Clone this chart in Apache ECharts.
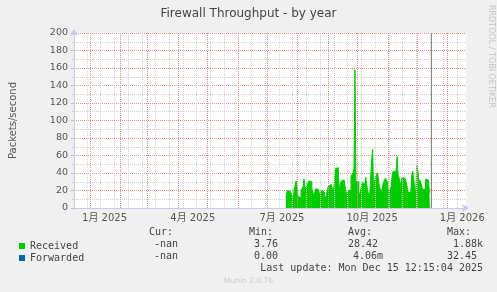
<!DOCTYPE html>
<html><head><meta charset="utf-8">
<script src="https://cdn.jsdelivr.net/npm/echarts@6/dist/echarts.min.js"></script>
<style>html,body{margin:0;padding:0;background:#f0f0f0;}#c{width:497px;height:292px;}</style>
</head><body><div id="c"></div>
<script>
// ---- data ----
const titleText = 'Firewall Throughput - by year';
const yAxisName = 'Packets/second';
// x axis: days since 1 Jan 2025
const xTickDays = [15, 105, 196, 288, 380];
const xTickLabels = ['1月 2025', '4月 2025', '7月 2025', '10月 2025', '1月 2026'];
const monthStartDays = [0, 31, 59, 90, 120, 151, 181, 212, 243, 273, 304, 334, 365];
const minorGridDays = [-3, 11, 25, 39, 53, 67, 81, 95, 109, 123, 137, 151, 165, 179, 193, 207, 221, 235, 249, 263, 277, 291, 305, 319, 333, 347, 361, 375];
const nowDay = 348.5;
const seriesNames = ['Received', 'Forwarded'];
const receivedStartDay = 200; // 20 Jul 2025, one value per day
const receivedValues = [
  11, 12, 20, 22, 19, 18, 16, 15, 11, 23, 26, 31, 29, 13, 11, 12, 20, 21, 24, 33,
  22, 20, 26, 27, 31, 32, 30, 22, 20, 14, 12, 22, 24, 21, 20, 14, 13, 20, 22, 18,
  15, 10, 8, 22, 25, 24, 27, 29, 26, 17, 18, 45, 47, 46, 40, 21, 19, 31, 33, 32,
  34, 33, 16, 14, 20, 22, 20, 37, 38, 40, 45, 158, 30, 31, 30, 18, 15, 16, 29, 28,
  27, 26, 35, 36, 19, 17, 13, 14, 55, 67, 22, 20, 36, 38, 40, 39, 24, 21, 18, 17,
  29, 31, 34, 36, 30, 18, 17, 22, 25, 38, 42, 41, 42, 40, 59, 38, 35, 24, 22, 35,
  36, 34, 33, 34, 26, 18, 17, 18, 17, 38, 42, 43, 22, 18, 48, 45, 33, 31, 30, 29,
  21, 19, 22, 33, 34, 32, 31, 17
];
const forwardedValues = [];
const statHeaders = ['Cur:', 'Min:', 'Avg:', 'Max:'];
const receivedStats = ['-nan', '3.76', '28.42', '1.88k'];
const forwardedStats = ['-nan', '0.00', '4.06m', '32.45'];
const lastUpdate = 'Last update: Mon Dec 15 12:15:04 2025';
const footerText = 'Munin 2.0.76';
const watermark = 'RRDTOOL / TOBI OETIKER';

// ---- chart ----
const FONT = '"DejaVu Sans", "Noto Sans CJK JP", sans-serif';
const MONO = '"DejaVu Sans Mono", monospace';
const RED = '#ec8c8c';
const GRAY = '#d0d0d0';
const AXIS = '#c8c8f4';

const chart = echarts.init(document.getElementById('c'), null, {renderer: 'canvas'});

const receivedData = receivedValues.map((v, i) => [receivedStartDay + i, v]);
const forwardedData = forwardedValues.map((v, i) => [receivedStartDay + i, v]);

const gridLines = [];
minorGridDays.forEach(d => gridLines.push({xAxis: d, lineStyle: {color: GRAY, type: [1, 1], width: 1}}));
monthStartDays.forEach(d => gridLines.push({xAxis: d, lineStyle: {color: RED, type: [1, 1], width: 1}}));

function statTexts(vals, xs, y, align) {
  return vals.map((t, i) => ({
    type: 'text', x: xs[i], y: y, silent: true,
    style: {text: t, font: '10px ' + MONO, fill: '#444', textAlign: align, verticalAlign: 'middle'}
  }));
}

const option = {
  backgroundColor: '#f0f0f0',
  animation: false,
  title: {
    text: titleText, left: 'center', top: 3,
    textStyle: {fontFamily: FONT, fontSize: 12, fontWeight: 'normal', color: '#444'}
  },
  legend: {
    orient: 'vertical', left: 14, top: 235, itemWidth: 6, itemHeight: 6, itemGap: 0,
    icon: 'rect', selectedMode: false,
    textStyle: {fontFamily: MONO, fontSize: 10, color: '#444', lineHeight: 12},
    data: seriesNames
  },
  grid: {left: 66, top: 33, width: 400, height: 175, show: true, backgroundColor: '#ffffff', borderWidth: 0, containLabel: false},
  xAxis: {
    type: 'value', min: -16.2, max: 383.8,
    axisLine: {show: true, onZero: false, lineStyle: {color: AXIS}, symbol: ['none', 'arrow'], symbolSize: [6, 7], symbolOffset: [0, 3]},
    axisTick: {show: false},
    splitLine: {show: false},
    axisLabel: {
      customValues: xTickDays, margin: 5, fontFamily: FONT, fontSize: 10, color: '#555',
      formatter: v => { const i = xTickDays.indexOf(v); return i >= 0 ? xTickLabels[i] : ''; }
    }
  },
  yAxis: {
    type: 'value', min: 0, max: 200, interval: 20,
    name: yAxisName, nameLocation: 'middle', nameGap: 56,
    nameTextStyle: {fontFamily: FONT, fontSize: 10, color: '#555'},
    axisLine: {show: true, onZero: false, lineStyle: {color: AXIS}, symbol: ['none', 'arrow'], symbolSize: [6, 7], symbolOffset: [0, 4]},
    axisTick: {show: true, length: 3, lineStyle: {color: '#bbbbbb'}},
    minorTick: {show: true, splitNumber: 2, length: 2, lineStyle: {color: '#cccccc'}},
    axisLabel: {margin: 6, fontFamily: FONT, fontSize: 9.5, color: '#555'},
    splitLine: {show: true, lineStyle: {color: RED, type: [1, 1]}},
    minorSplitLine: {show: true, lineStyle: {color: GRAY, type: [1, 1]}}
  },
  series: [
    {
      name: 'grid', type: 'line', data: [], z: 1, silent: true, legendHoverLink: false,
      markLine: {symbol: 'none', silent: true, label: {show: false}, animation: false, data: gridLines}
    },
    {
      name: seriesNames[0], type: 'line', data: receivedData, z: 3, showSymbol: false, step: 'middle',
      color: '#00cc00', lineStyle: {width: 1, color: '#00cc00'},
      areaStyle: {color: '#00cc00', opacity: 1},
      markLine: {
        symbol: 'none', silent: true, label: {show: false}, animation: false,
        data: [{xAxis: nowDay, lineStyle: {color: '#888888', type: 'solid', width: 1}}]
      }
    },
    {
      name: seriesNames[1], type: 'line', data: forwardedData, z: 4, showSymbol: false,
      color: '#0066b3', lineStyle: {width: 1, color: '#0066b3'}
    }
  ],
  graphic: [
    {type: 'text', x: 491, y: 5, rotation: -Math.PI / 2, silent: true,
     style: {text: watermark, font: '8px ' + FONT, fill: '#c4c4c4', textAlign: 'left', verticalAlign: 'middle'}},
    ...statTexts(statHeaders, [149, 249, 348, 447], 232.3, 'left'),
    ...statTexts(receivedStats, [178, 278, 378, 483], 244.5, 'right'),
    ...statTexts(forwardedStats, [178, 278, 383, 477], 256.8, 'right'),
    {type: 'text', x: 483, y: 268.5, silent: true,
     style: {text: lastUpdate, font: '10px ' + MONO, fill: '#444', textAlign: 'right', verticalAlign: 'middle'}},
    {type: 'text', x: 248.5, y: 281, silent: true,
     style: {text: footerText, font: '7.5px ' + FONT, fill: '#cccccc', textAlign: 'center', verticalAlign: 'middle'}}
  ]
};
chart.setOption(option);
</script></body></html>
